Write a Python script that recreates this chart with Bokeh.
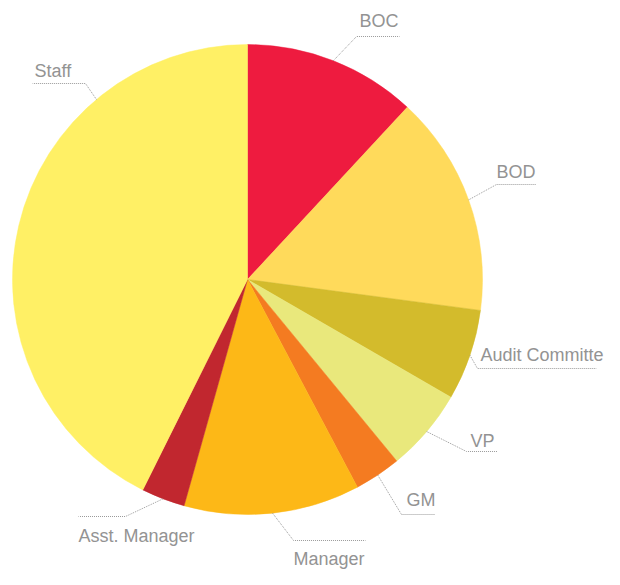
import math
from bokeh.plotting import figure
from bokeh.models import Range1d
from bokeh.embed import file_html
from bokeh.resources import INLINE
from bokeh.core.properties import value

# ---- data ----
categories = ["BOC", "BOD", "Audit Committe", "VP", "GM", "Manager", "Asst. Manager", "Staff"]
shares = [11.9, 15.2, 6.25, 5.7, 3.2, 12.1, 3.0, 42.65]
colors = ["#EE1B3F", "#FFDA5B", "#D3BB2C", "#E9E87C", "#F47B21", "#FDB817", "#C1272F", "#FFF065"]

# ---- layout (picture pixels) ----
PAGE_H = 585
CX, CY, R = 247, 279, 235
TEXT_SHIFT = 7
leader_override = {"Staff": 320.0}          # leader angle (deg clockwise from top)
elbow_x = [356, 496, 477, 466, 401, 293, 125, 85]
elbow_y = [36, 184, 368, 451, 514, 540, 516, 83]
end_x = [399, 536, 596, 497, 435, 365, 78, 32]
label_x = [359, 496, 480, 470, 406, 293, 78, 34]
label_y = [27, 178, 361, 447, 506, 565, 542, 77]


def sy(y):
    return PAGE_H - y


p = figure(width=604, height=569, x_range=Range1d(0, 604), y_range=Range1d(16, 585),
           output_backend="svg", toolbar_location=None, min_border=0,
           x_axis_type=None, y_axis_type=None)
p.grid.visible = False
p.outline_line_color = None

total = float(sum(shares))
starts, ends, mids = [], [], []
cum = 0.0
for s in shares:
    a0 = cum / total * 2 * math.pi
    cum += s
    a1 = cum / total * 2 * math.pi
    starts.append(math.pi / 2 - a0)
    ends.append(math.pi / 2 - a1)
    mids.append((a0 + a1) / 2)

p.wedge(x=CX, y=sy(CY), radius=R, start_angle=starts, end_angle=ends,
        direction="clock", fill_color=colors, line_color=colors, line_width=0.5)

xs, ys = [], []
for i, c in enumerate(categories):
    ang = math.radians(leader_override[c]) if c in leader_override else mids[i]
    x0 = CX + R * math.sin(ang)
    y0 = CY - R * math.cos(ang)
    xs.append([x0, elbow_x[i], end_x[i]])
    ys.append([sy(y0), sy(elbow_y[i]), sy(elbow_y[i])])

p.multi_line(xs, ys, line_color="#9a9a9a", line_width=1, line_dash="1 1")

p.text(x=label_x, y=[sy(v - TEXT_SHIFT) for v in label_y], text=categories,
       text_font=value("Liberation Sans"), text_font_size="18px",
       text_color="#939393", text_align="left", text_baseline="alphabetic")

open("out.html", "w").write(file_html(p, INLINE))
